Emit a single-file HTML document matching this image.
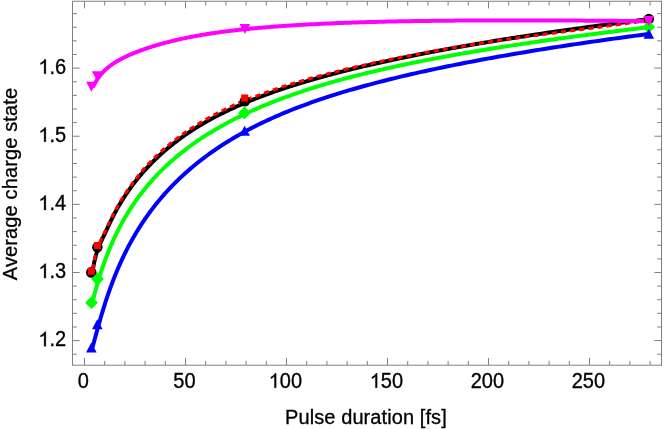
<!DOCTYPE html>
<html><head><meta charset="utf-8"><title>Average charge state vs pulse duration</title>
<style>html,body{margin:0;padding:0;background:#fff}body{width:664px;height:429px;overflow:hidden}</style></head>
<body>
<svg width="664" height="429" viewBox="0 0 664 429" style="display:block;will-change:transform">
<rect width="664" height="429" fill="#fff"/>
<path d="M92.50,272.37 L92.63,271.47 L92.76,270.58 L92.90,269.72 L93.03,268.87 L93.17,268.04 L93.31,267.22 L93.44,266.42 L93.58,265.64 L93.73,264.87 L93.87,264.12 L94.01,263.38 L94.16,262.66 L94.30,261.95 L94.45,261.26 L94.60,260.57 L94.75,259.90 L94.90,259.25 L95.06,258.60 L95.21,257.97 L95.37,257.35 L95.53,256.74 L95.69,256.14 L95.85,255.55 L96.01,254.97 L96.17,254.40 L96.34,253.83 L96.51,253.28 L96.67,252.74 L96.84,252.20 L97.02,251.67 L97.19,251.15 L97.36,250.63 L97.54,250.13 L97.72,249.62 L97.90,249.13 L98.08,248.64 L98.26,248.15 L98.45,247.67 L98.64,247.19 L98.82,246.72 L99.01,246.25 L99.21,245.78 L99.40,245.32 L99.60,244.86 L99.79,244.40 L99.99,243.94 L100.19,243.48 L100.40,243.02 L100.60,242.57 L100.81,242.11 L101.02,241.66 L101.23,241.20 L101.44,240.74 L101.65,240.29 L101.87,239.83 L102.09,239.36 L102.31,238.90 L102.53,238.43 L102.76,237.96 L102.98,237.48 L103.21,237.01 L103.44,236.52 L103.68,236.04 L103.91,235.54 L104.15,235.04 L104.39,234.54 L104.63,234.03 L104.88,233.51 L105.12,232.99 L105.37,232.46 L105.62,231.92 L105.88,231.38 L106.13,230.83 L106.39,230.28 L106.65,229.72 L106.92,229.16 L107.18,228.59 L107.45,228.02 L107.72,227.44 L107.99,226.86 L108.27,226.28 L108.55,225.69 L108.83,225.09 L109.11,224.49 L109.40,223.89 L109.69,223.29 L109.98,222.68 L110.27,222.07 L110.57,221.46 L110.87,220.84 L111.17,220.22 L111.48,219.60 L111.79,218.98 L112.10,218.35 L112.41,217.72 L112.73,217.10 L113.05,216.47 L113.37,215.83 L113.70,215.20 L114.02,214.57 L114.36,213.93 L114.69,213.30 L115.03,212.66 L115.37,212.03 L115.72,211.39 L116.06,210.75 L116.41,210.11 L116.77,209.47 L117.13,208.83 L117.49,208.19 L117.85,207.54 L118.22,206.90 L118.59,206.26 L118.96,205.61 L119.34,204.96 L119.72,204.32 L120.11,203.67 L120.50,203.02 L120.89,202.37 L121.29,201.72 L121.69,201.07 L122.09,200.42 L122.50,199.76 L122.91,199.11 L123.32,198.46 L123.74,197.80 L124.16,197.15 L124.59,196.49 L125.02,195.83 L125.46,195.17 L125.89,194.52 L126.34,193.86 L126.78,193.20 L127.24,192.53 L127.69,191.87 L128.15,191.21 L128.61,190.55 L129.08,189.88 L129.55,189.22 L130.03,188.55 L130.51,187.89 L131.00,187.22 L131.49,186.55 L131.98,185.88 L132.48,185.22 L132.99,184.55 L133.50,183.88 L134.01,183.20 L134.53,182.53 L135.05,181.86 L135.58,181.19 L136.11,180.51 L136.65,179.84 L137.19,179.16 L137.74,178.49 L138.29,177.81 L138.85,177.14 L139.42,176.46 L139.99,175.78 L140.56,175.10 L141.14,174.42 L141.72,173.74 L142.31,173.06 L142.91,172.38 L143.51,171.70 L144.12,171.02 L144.73,170.33 L145.35,169.65 L145.97,168.97 L146.60,168.28 L147.24,167.60 L147.88,166.91 L148.53,166.22 L149.18,165.54 L149.84,164.85 L150.51,164.16 L151.18,163.48 L151.86,162.79 L152.55,162.10 L153.24,161.41 L153.93,160.72 L154.64,160.03 L155.35,159.34 L156.07,158.65 L156.79,157.96 L157.52,157.27 L158.26,156.58 L159.01,155.89 L159.76,155.20 L160.52,154.51 L161.28,153.81 L162.05,153.12 L162.83,152.43 L163.62,151.74 L164.42,151.05 L165.22,150.35 L166.03,149.66 L166.84,148.97 L167.67,148.28 L168.50,147.59 L169.34,146.90 L170.19,146.20 L171.05,145.51 L171.91,144.82 L172.78,144.13 L173.66,143.44 L174.55,142.75 L175.45,142.06 L176.35,141.37 L177.27,140.68 L178.19,139.99 L179.12,139.30 L180.06,138.61 L181.00,137.92 L181.96,137.23 L182.93,136.54 L183.90,135.85 L184.89,135.17 L185.88,134.48 L186.88,133.79 L187.89,133.11 L188.91,132.42 L189.94,131.73 L190.99,131.05 L192.04,130.37 L193.09,129.68 L194.16,129.00 L195.24,128.32 L196.33,127.64 L197.43,126.95 L198.54,126.27 L199.66,125.59 L200.79,124.92 L201.94,124.24 L203.09,123.56 L204.25,122.88 L205.43,122.21 L206.61,121.53 L207.81,120.86 L209.01,120.18 L210.23,119.51 L211.46,118.84 L212.70,118.17 L213.95,117.50 L215.22,116.83 L216.49,116.16 L217.78,115.50 L219.08,114.83 L220.39,114.16 L221.72,113.50 L223.05,112.84 L224.40,112.18 L225.77,111.51 L227.14,110.86 L228.53,110.20 L229.93,109.54 L231.34,108.88 L232.77,108.23 L234.21,107.57 L235.66,106.92 L237.13,106.26 L238.61,105.61 L240.10,104.96 L241.61,104.31 L243.13,103.66 L244.67,103.01 L246.22,102.37 L247.78,101.72 L249.36,101.07 L250.96,100.43 L252.57,99.78 L254.19,99.14 L255.83,98.50 L257.49,97.86 L259.16,97.22 L260.84,96.57 L262.54,95.94 L264.26,95.30 L266.00,94.66 L267.74,94.02 L269.51,93.38 L271.29,92.75 L273.09,92.11 L274.91,91.48 L276.74,90.84 L278.59,90.21 L280.46,89.57 L282.34,88.94 L284.25,88.31 L286.17,87.68 L288.10,87.05 L290.06,86.42 L292.03,85.79 L294.03,85.16 L296.04,84.53 L298.07,83.90 L300.12,83.27 L302.18,82.64 L304.27,82.01 L306.38,81.39 L308.50,80.76 L310.65,80.13 L312.82,79.51 L315.00,78.88 L317.21,78.26 L319.44,77.63 L321.69,77.01 L323.96,76.38 L326.25,75.76 L328.56,75.14 L330.89,74.51 L333.25,73.89 L335.62,73.27 L338.02,72.64 L340.44,72.02 L342.89,71.40 L345.36,70.78 L347.85,70.15 L350.36,69.53 L352.90,68.91 L355.46,68.29 L358.04,67.67 L360.65,67.05 L363.28,66.42 L365.94,65.80 L368.62,65.18 L371.33,64.56 L374.06,63.94 L376.82,63.32 L379.60,62.70 L382.41,62.07 L385.25,61.45 L388.11,60.83 L391.00,60.21 L393.91,59.59 L396.86,58.97 L399.83,58.35 L402.83,57.72 L405.85,57.10 L408.91,56.48 L411.99,55.86 L415.10,55.23 L418.24,54.61 L421.41,53.99 L424.61,53.37 L427.84,52.74 L431.10,52.12 L434.39,51.50 L437.71,50.87 L441.06,50.25 L444.45,49.62 L447.86,49.00 L451.31,48.37 L454.79,47.75 L458.30,47.12 L461.84,46.49 L465.42,45.87 L469.03,45.24 L472.67,44.61 L476.35,43.98 L480.06,43.36 L483.81,42.73 L487.59,42.10 L491.41,41.47 L495.26,40.84 L499.15,40.21 L503.07,39.58 L507.03,38.94 L511.03,38.31 L515.07,37.68 L519.14,37.05 L523.25,36.41 L527.40,35.78 L531.59,35.14 L535.82,34.51 L540.08,33.87 L544.39,33.23 L548.74,32.59 L553.13,31.96 L557.55,31.32 L562.02,30.68 L566.54,30.04 L571.09,29.39 L575.68,28.75 L580.32,28.11 L585.01,27.47 L589.73,26.82 L594.50,26.18 L599.32,25.53 L604.17,24.88 L609.08,24.24 L614.03,23.59 L619.03,22.94 L624.07,22.29 L629.16,21.64 L634.30,20.98 L639.48,20.33 L644.72,19.68 L650.00,19.02" fill="none" stroke="#000000" stroke-width="4.0" stroke-linejoin="round"/>
<path d="M92.50,271.07 L92.63,270.15 L92.76,269.26 L92.90,268.38 L93.03,267.52 L93.17,266.67 L93.31,265.84 L93.44,265.03 L93.58,264.23 L93.73,263.45 L93.87,262.68 L94.01,261.93 L94.16,261.19 L94.30,260.46 L94.45,259.75 L94.60,259.05 L94.75,258.37 L94.90,257.69 L95.06,257.03 L95.21,256.38 L95.37,255.74 L95.53,255.12 L95.69,254.50 L95.85,253.90 L96.01,253.30 L96.17,252.71 L96.34,252.14 L96.51,251.57 L96.67,251.01 L96.84,250.47 L97.02,249.93 L97.19,249.39 L97.36,248.87 L97.54,248.35 L97.72,247.84 L97.90,247.34 L98.08,246.84 L98.26,246.35 L98.45,245.87 L98.64,245.39 L98.82,244.92 L99.01,244.45 L99.21,243.98 L99.40,243.52 L99.60,243.06 L99.79,242.60 L99.99,242.14 L100.19,241.68 L100.40,241.22 L100.60,240.77 L100.81,240.31 L101.02,239.86 L101.23,239.40 L101.44,238.94 L101.65,238.49 L101.87,238.03 L102.09,237.56 L102.31,237.10 L102.53,236.63 L102.76,236.16 L102.98,235.68 L103.21,235.21 L103.44,234.72 L103.68,234.24 L103.91,233.74 L104.15,233.24 L104.39,232.74 L104.63,232.23 L104.88,231.71 L105.12,231.19 L105.37,230.66 L105.62,230.12 L105.88,229.58 L106.13,229.03 L106.39,228.48 L106.65,227.92 L106.92,227.36 L107.18,226.79 L107.45,226.22 L107.72,225.64 L107.99,225.06 L108.27,224.48 L108.55,223.89 L108.83,223.29 L109.11,222.69 L109.40,222.09 L109.69,221.49 L109.98,220.88 L110.27,220.27 L110.57,219.66 L110.87,219.04 L111.17,218.42 L111.48,217.80 L111.79,217.18 L112.10,216.55 L112.41,215.92 L112.73,215.30 L113.05,214.67 L113.37,214.03 L113.70,213.40 L114.02,212.77 L114.36,212.13 L114.69,211.50 L115.03,210.86 L115.37,210.23 L115.72,209.59 L116.06,208.95 L116.41,208.31 L116.77,207.67 L117.13,207.03 L117.49,206.39 L117.85,205.74 L118.22,205.10 L118.59,204.46 L118.96,203.81 L119.34,203.16 L119.72,202.52 L120.11,201.87 L120.50,201.22 L120.89,200.57 L121.29,199.92 L121.69,199.27 L122.09,198.62 L122.50,197.96 L122.91,197.31 L123.32,196.66 L123.74,196.00 L124.16,195.35 L124.59,194.69 L125.02,194.03 L125.46,193.37 L125.89,192.72 L126.34,192.06 L126.78,191.40 L127.24,190.73 L127.69,190.07 L128.15,189.41 L128.61,188.75 L129.08,188.08 L129.55,187.42 L130.03,186.75 L130.51,186.09 L131.00,185.42 L131.49,184.75 L131.98,184.08 L132.48,183.40 L132.99,182.71 L133.50,182.03 L134.01,181.34 L134.53,180.64 L135.05,179.94 L135.58,179.24 L136.11,178.54 L136.65,177.83 L137.19,177.13 L137.74,176.42 L138.29,175.71 L138.85,174.99 L139.42,174.28 L139.99,173.57 L140.56,172.86 L141.14,172.15 L141.72,171.44 L142.31,170.73 L142.91,170.03 L143.51,169.33 L144.12,168.63 L144.73,167.94 L145.35,167.25 L145.97,166.56 L146.60,165.87 L147.24,165.18 L147.88,164.49 L148.53,163.81 L149.18,163.12 L149.84,162.43 L150.51,161.73 L151.18,161.04 L151.86,160.35 L152.55,159.66 L153.24,158.97 L153.93,158.28 L154.64,157.59 L155.35,156.89 L156.07,156.20 L156.79,155.51 L157.52,154.81 L158.26,154.12 L159.01,153.43 L159.76,152.74 L160.52,152.04 L161.28,151.35 L162.05,150.66 L162.83,149.96 L163.62,149.27 L164.42,148.57 L165.22,147.88 L166.03,147.19 L166.84,146.49 L167.67,145.80 L168.50,145.11 L169.34,144.41 L170.19,143.72 L171.05,143.03 L171.91,142.34 L172.78,141.64 L173.66,140.95 L174.55,140.26 L175.45,139.57 L176.35,138.87 L177.27,138.18 L178.19,137.49 L179.12,136.80 L180.06,136.11 L181.00,135.42 L181.96,134.73 L182.93,134.04 L183.90,133.35 L184.89,132.66 L185.88,131.97 L186.88,131.28 L187.89,130.59 L188.91,129.90 L189.94,129.21 L190.99,128.53 L192.04,127.84 L193.09,127.15 L194.16,126.47 L195.24,125.79 L196.33,125.10 L197.43,124.42 L198.54,123.73 L199.66,123.05 L200.79,122.37 L201.94,121.69 L203.09,121.01 L204.25,120.33 L205.43,119.65 L206.61,118.98 L207.81,118.30 L209.01,117.62 L210.23,116.95 L211.46,116.27 L212.70,115.60 L213.95,114.93 L215.22,114.26 L216.49,113.59 L217.78,112.92 L219.08,112.25 L220.39,111.58 L221.72,110.92 L223.05,110.25 L224.40,109.59 L225.77,108.93 L227.14,108.27 L228.53,107.61 L229.93,106.95 L231.34,106.29 L232.77,105.63 L234.21,104.98 L235.66,104.32 L237.13,103.67 L238.61,103.01 L240.10,102.36 L241.61,101.71 L243.13,101.06 L244.67,100.41 L246.22,99.78 L247.78,99.17 L249.36,98.58 L250.96,98.01 L252.57,97.44 L254.19,96.87 L255.83,96.28 L257.49,95.66 L259.16,95.04 L260.84,94.41 L262.54,93.79 L264.26,93.16 L266.00,92.54 L267.74,91.91 L269.51,91.28 L271.29,90.65 L273.09,90.03 L274.91,89.40 L276.74,88.77 L278.59,88.15 L280.46,87.52 L282.34,86.90 L284.25,86.27 L286.17,85.65 L288.10,85.03 L290.06,84.42 L292.03,83.80 L294.03,83.19 L296.04,82.57 L298.07,81.96 L300.12,81.35 L302.18,80.74 L304.27,80.14 L306.38,79.53 L308.50,78.92 L310.65,78.32 L312.82,77.71 L315.00,77.11 L317.21,76.51 L319.44,75.91 L321.69,75.31 L323.96,74.71 L326.25,74.11 L328.56,73.51 L330.89,72.91 L333.25,72.32 L335.62,71.72 L338.02,71.12 L340.44,70.53 L342.89,69.93 L345.36,69.34 L347.85,68.74 L350.36,68.15 L352.90,67.56 L355.46,66.97 L358.04,66.39 L360.65,65.80 L363.28,65.21 L365.94,64.62 L368.62,64.04 L371.33,63.45 L374.06,62.86 L376.82,62.27 L379.60,61.68 L382.41,61.10 L385.25,60.51 L388.11,59.91 L391.00,59.32 L393.91,58.73 L396.86,58.13 L399.83,57.53 L402.83,56.94 L405.85,56.34 L408.91,55.74 L411.99,55.14 L415.10,54.54 L418.24,53.94 L421.41,53.34 L424.61,52.74 L427.84,52.14 L431.10,51.54 L434.39,50.95 L437.71,50.35 L441.06,49.76 L444.45,49.16 L447.86,48.57 L451.31,47.97 L454.79,47.38 L458.30,46.78 L461.84,46.19 L465.42,45.59 L469.03,45.00 L472.67,44.41 L476.35,43.82 L480.06,43.23 L483.81,42.65 L487.59,42.07 L491.41,41.49 L495.26,40.92 L499.15,40.36 L503.07,39.81 L507.03,39.26 L511.03,38.72 L515.07,38.18 L519.14,37.64 L523.25,37.10 L527.40,36.55 L531.59,36.00 L535.82,35.44 L540.08,34.87 L544.39,34.29 L548.74,33.71 L553.13,33.14 L557.55,32.56 L562.02,31.98 L566.54,31.40 L571.09,30.81 L575.68,30.22 L580.32,29.62 L585.01,29.01 L589.73,28.39 L594.50,27.77 L599.32,27.13 L604.17,26.48 L609.08,25.82 L614.03,25.15 L619.03,24.48 L624.07,23.79 L629.16,23.09 L634.30,22.39 L639.48,21.67 L644.72,20.94 L650.00,20.22" fill="none" stroke="#ff0000" stroke-width="3.05" stroke-linejoin="round" stroke-dasharray="5.2 4.0" stroke-dashoffset="-1.8"/>
<path d="M92.50,302.21 L92.63,301.67 L92.76,301.13 L92.90,300.59 L93.03,300.04 L93.17,299.49 L93.31,298.94 L93.44,298.39 L93.58,297.83 L93.73,297.28 L93.87,296.72 L94.01,296.15 L94.16,295.59 L94.30,295.02 L94.45,294.46 L94.60,293.88 L94.75,293.31 L94.90,292.74 L95.06,292.16 L95.21,291.58 L95.37,291.00 L95.53,290.41 L95.69,289.83 L95.85,289.24 L96.01,288.65 L96.17,288.06 L96.34,287.46 L96.51,286.87 L96.67,286.27 L96.84,285.67 L97.02,285.07 L97.19,284.46 L97.36,283.86 L97.54,283.25 L97.72,282.64 L97.90,282.03 L98.08,281.41 L98.26,280.80 L98.45,280.18 L98.64,279.56 L98.82,278.94 L99.01,278.31 L99.21,277.69 L99.40,277.06 L99.60,276.43 L99.79,275.80 L99.99,275.17 L100.19,274.53 L100.40,273.90 L100.60,273.26 L100.81,272.62 L101.02,271.98 L101.23,271.33 L101.44,270.69 L101.65,270.04 L101.87,269.39 L102.09,268.74 L102.31,268.09 L102.53,267.44 L102.76,266.78 L102.98,266.13 L103.21,265.47 L103.44,264.81 L103.68,264.15 L103.91,263.48 L104.15,262.82 L104.39,262.15 L104.63,261.48 L104.88,260.81 L105.12,260.14 L105.37,259.47 L105.62,258.80 L105.88,258.12 L106.13,257.44 L106.39,256.76 L106.65,256.08 L106.91,255.40 L107.18,254.72 L107.45,254.04 L107.72,253.35 L107.99,252.66 L108.27,251.98 L108.55,251.29 L108.83,250.59 L109.11,249.90 L109.40,249.21 L109.69,248.51 L109.98,247.82 L110.27,247.12 L110.57,246.42 L110.87,245.72 L111.17,245.02 L111.48,244.32 L111.78,243.61 L112.09,242.91 L112.41,242.20 L112.73,241.49 L113.05,240.78 L113.37,240.07 L113.69,239.36 L114.02,238.65 L114.36,237.94 L114.69,237.22 L115.03,236.51 L115.37,235.79 L115.71,235.07 L116.06,234.35 L116.41,233.63 L116.77,232.91 L117.12,232.19 L117.49,231.47 L117.85,230.74 L118.22,230.02 L118.59,229.29 L118.96,228.57 L119.34,227.84 L119.72,227.11 L120.11,226.38 L120.50,225.65 L120.89,224.92 L121.28,224.18 L121.68,223.45 L122.09,222.72 L122.49,221.98 L122.91,221.24 L123.32,220.51 L123.74,219.77 L124.16,219.03 L124.59,218.29 L125.02,217.55 L125.45,216.81 L125.89,216.07 L126.33,215.33 L126.78,214.58 L127.23,213.84 L127.69,213.10 L128.15,212.35 L128.61,211.61 L129.08,210.86 L129.55,210.11 L130.03,209.36 L130.51,208.61 L130.99,207.87 L131.49,207.12 L131.98,206.37 L132.48,205.61 L132.98,204.86 L133.49,204.11 L134.01,203.36 L134.52,202.61 L135.05,201.85 L135.58,201.10 L136.11,200.34 L136.65,199.59 L137.19,198.83 L137.74,198.08 L138.29,197.32 L138.85,196.56 L139.41,195.80 L139.98,195.05 L140.56,194.29 L141.13,193.53 L141.72,192.77 L142.31,192.01 L142.91,191.25 L143.51,190.49 L144.11,189.73 L144.73,188.97 L145.35,188.21 L145.97,187.45 L146.60,186.69 L147.24,185.93 L147.88,185.16 L148.52,184.40 L149.18,183.64 L149.84,182.88 L150.50,182.11 L151.18,181.35 L151.86,180.59 L152.54,179.82 L153.23,179.06 L153.93,178.29 L154.63,177.53 L155.34,176.77 L156.06,176.00 L156.79,175.24 L157.52,174.47 L158.25,173.71 L159.00,172.94 L159.75,172.18 L160.51,171.42 L161.27,170.65 L162.05,169.89 L162.83,169.12 L163.61,168.36 L164.41,167.59 L165.21,166.83 L166.02,166.06 L166.84,165.30 L167.66,164.54 L168.49,163.77 L169.33,163.01 L170.18,162.24 L171.04,161.48 L171.90,160.72 L172.77,159.95 L173.65,159.19 L174.54,158.43 L175.44,157.66 L176.34,156.90 L177.26,156.14 L178.18,155.38 L179.11,154.61 L180.05,153.85 L181.00,153.09 L181.95,152.33 L182.92,151.57 L183.89,150.81 L184.88,150.05 L185.87,149.29 L186.87,148.53 L187.88,147.77 L188.90,147.01 L189.93,146.25 L190.97,145.49 L192.02,144.73 L193.08,143.98 L194.15,143.22 L195.23,142.46 L196.32,141.71 L197.42,140.95 L198.53,140.20 L199.65,139.44 L200.78,138.69 L201.92,137.93 L203.08,137.18 L204.24,136.43 L205.41,135.68 L206.60,134.93 L207.79,134.17 L209.00,133.42 L210.22,132.68 L211.45,131.93 L212.69,131.18 L213.94,130.43 L215.20,129.68 L216.48,128.94 L217.77,128.19 L219.07,127.45 L220.38,126.70 L221.70,125.96 L223.04,125.21 L224.39,124.47 L225.75,123.73 L227.12,122.99 L228.51,122.25 L229.91,121.51 L231.32,120.77 L232.75,120.04 L234.19,119.30 L235.64,118.56 L237.11,117.83 L238.59,117.10 L240.08,116.36 L241.59,115.63 L243.11,114.90 L244.65,114.17 L246.20,113.44 L247.76,112.71 L249.34,111.99 L250.94,111.26 L252.55,110.53 L254.17,109.81 L255.81,109.09 L257.46,108.37 L259.13,107.64 L260.82,106.92 L262.52,106.21 L264.24,105.49 L265.97,104.77 L267.72,104.06 L269.49,103.34 L271.27,102.63 L273.07,101.92 L274.88,101.21 L276.72,100.50 L278.57,99.79 L280.43,99.08 L282.32,98.38 L284.22,97.67 L286.14,96.97 L288.08,96.27 L290.03,95.57 L292.01,94.87 L294.00,94.17 L296.01,93.48 L298.04,92.78 L300.09,92.09 L302.15,91.39 L304.24,90.70 L306.35,90.01 L308.47,89.33 L310.62,88.64 L312.79,87.95 L314.97,87.27 L317.18,86.59 L319.41,85.91 L321.65,85.23 L323.92,84.55 L326.21,83.88 L328.52,83.20 L330.86,82.53 L333.21,81.86 L335.59,81.19 L337.99,80.52 L340.41,79.85 L342.85,79.19 L345.32,78.53 L347.81,77.87 L350.32,77.21 L352.86,76.55 L355.42,75.89 L358.00,75.24 L360.61,74.58 L363.24,73.93 L365.90,73.28 L368.58,72.63 L371.29,71.98 L374.02,71.33 L376.78,70.69 L379.56,70.04 L382.37,69.40 L385.20,68.76 L388.06,68.12 L390.95,67.48 L393.87,66.84 L396.81,66.20 L399.78,65.57 L402.78,64.93 L405.80,64.30 L408.86,63.66 L411.94,63.03 L415.05,62.40 L418.19,61.77 L421.36,61.14 L424.56,60.51 L427.79,59.89 L431.05,59.26 L434.34,58.63 L437.66,58.01 L441.01,57.38 L444.39,56.76 L447.80,56.14 L451.25,55.51 L454.73,54.89 L458.24,54.27 L461.78,53.65 L465.36,53.03 L468.97,52.41 L472.61,51.79 L476.29,51.17 L480.00,50.55 L483.74,49.94 L487.52,49.32 L491.34,48.70 L495.19,48.08 L499.08,47.47 L503.00,46.85 L506.96,46.24 L510.96,45.62 L515.00,45.00 L519.07,44.39 L523.18,43.77 L527.33,43.16 L531.52,42.54 L535.74,41.93 L540.01,41.31 L544.31,40.70 L548.66,40.08 L553.05,39.47 L557.47,38.85 L561.94,38.24 L566.45,37.62 L571.01,37.01 L575.60,36.39 L580.24,35.78 L584.92,35.16 L589.64,34.55 L594.41,33.93 L599.23,33.31 L604.09,32.69 L608.99,32.08 L613.94,31.46 L618.93,30.84 L623.98,30.22 L629.06,29.60 L634.20,28.98 L639.39,28.36 L644.62,27.74 L649.90,27.12 L650.00,27.12" fill="none" stroke="#00ff00" stroke-width="4.0" stroke-linejoin="round"/>
<path d="M92.50,347.59 L92.63,347.10 L92.76,346.61 L92.90,346.11 L93.03,345.61 L93.17,345.10 L93.31,344.59 L93.44,344.07 L93.58,343.55 L93.73,343.02 L93.87,342.49 L94.01,341.95 L94.16,341.40 L94.30,340.85 L94.45,340.30 L94.60,339.74 L94.75,339.18 L94.90,338.61 L95.06,338.04 L95.21,337.46 L95.37,336.87 L95.53,336.29 L95.69,335.69 L95.85,335.10 L96.01,334.49 L96.17,333.89 L96.34,333.28 L96.51,332.66 L96.67,332.04 L96.84,331.42 L97.02,330.79 L97.19,330.16 L97.36,329.52 L97.54,328.88 L97.72,328.23 L97.90,327.58 L98.08,326.93 L98.26,326.27 L98.45,325.61 L98.64,324.94 L98.82,324.27 L99.01,323.59 L99.21,322.92 L99.40,322.23 L99.60,321.55 L99.79,320.86 L99.99,320.16 L100.19,319.47 L100.40,318.77 L100.60,318.06 L100.81,317.35 L101.02,316.64 L101.23,315.93 L101.44,315.21 L101.65,314.48 L101.87,313.76 L102.09,313.03 L102.31,312.30 L102.53,311.56 L102.76,310.82 L102.98,310.08 L103.21,309.33 L103.44,308.58 L103.68,307.83 L103.91,307.08 L104.15,306.32 L104.39,305.56 L104.63,304.79 L104.88,304.03 L105.12,303.26 L105.37,302.48 L105.62,301.71 L105.88,300.93 L106.13,300.15 L106.39,299.37 L106.65,298.58 L106.92,297.79 L107.18,297.00 L107.45,296.20 L107.72,295.41 L107.99,294.61 L108.27,293.81 L108.55,293.00 L108.83,292.20 L109.11,291.39 L109.40,290.58 L109.69,289.76 L109.98,288.95 L110.27,288.13 L110.57,287.31 L110.87,286.49 L111.17,285.66 L111.48,284.84 L111.79,284.01 L112.10,283.18 L112.41,282.35 L112.73,281.51 L113.05,280.68 L113.37,279.84 L113.70,279.00 L114.02,278.16 L114.36,277.32 L114.69,276.47 L115.03,275.63 L115.37,274.78 L115.72,273.93 L116.06,273.08 L116.41,272.23 L116.77,271.38 L117.13,270.52 L117.49,269.67 L117.85,268.81 L118.22,267.95 L118.59,267.09 L118.96,266.23 L119.34,265.37 L119.72,264.51 L120.11,263.64 L120.50,262.78 L120.89,261.91 L121.29,261.04 L121.69,260.17 L122.09,259.31 L122.50,258.43 L122.91,257.56 L123.32,256.69 L123.74,255.82 L124.16,254.94 L124.59,254.07 L125.02,253.19 L125.46,252.32 L125.89,251.44 L126.34,250.56 L126.78,249.68 L127.24,248.80 L127.69,247.92 L128.15,247.04 L128.61,246.15 L129.08,245.27 L129.55,244.39 L130.03,243.50 L130.51,242.62 L131.00,241.73 L131.49,240.84 L131.98,239.96 L132.48,239.07 L132.99,238.18 L133.50,237.29 L134.01,236.40 L134.53,235.51 L135.05,234.62 L135.58,233.73 L136.11,232.83 L136.65,231.94 L137.19,231.05 L137.74,230.15 L138.29,229.26 L138.85,228.37 L139.42,227.47 L139.99,226.57 L140.56,225.68 L141.14,224.78 L141.72,223.89 L142.31,222.99 L142.91,222.09 L143.51,221.19 L144.12,220.30 L144.73,219.40 L145.35,218.50 L145.97,217.60 L146.60,216.70 L147.24,215.80 L147.88,214.90 L148.53,214.00 L149.18,213.10 L149.84,212.20 L150.51,211.30 L151.18,210.40 L151.86,209.50 L152.55,208.60 L153.24,207.70 L153.93,206.80 L154.64,205.90 L155.35,205.00 L156.07,204.10 L156.79,203.20 L157.52,202.30 L158.26,201.39 L159.01,200.49 L159.76,199.59 L160.52,198.69 L161.28,197.79 L162.05,196.89 L162.83,195.99 L163.62,195.09 L164.42,194.19 L165.22,193.29 L166.03,192.39 L166.84,191.49 L167.67,190.59 L168.50,189.69 L169.34,188.80 L170.19,187.90 L171.05,187.00 L171.91,186.10 L172.78,185.20 L173.66,184.31 L174.55,183.41 L175.45,182.51 L176.35,181.62 L177.27,180.72 L178.19,179.83 L179.12,178.93 L180.06,178.04 L181.00,177.14 L181.96,176.25 L182.93,175.36 L183.90,174.46 L184.89,173.57 L185.88,172.68 L186.88,171.79 L187.89,170.90 L188.91,170.01 L189.94,169.12 L190.99,168.23 L192.04,167.34 L193.09,166.46 L194.16,165.57 L195.24,164.69 L196.33,163.80 L197.43,162.92 L198.54,162.03 L199.66,161.15 L200.79,160.27 L201.94,159.39 L203.09,158.50 L204.25,157.63 L205.43,156.75 L206.61,155.87 L207.81,154.99 L209.01,154.11 L210.23,153.24 L211.46,152.36 L212.70,151.49 L213.95,150.62 L215.22,149.75 L216.49,148.88 L217.78,148.01 L219.08,147.14 L220.39,146.27 L221.72,145.40 L223.05,144.54 L224.40,143.68 L225.77,142.81 L227.14,141.95 L228.53,141.09 L229.93,140.24 L231.34,139.38 L232.77,138.52 L234.21,137.67 L235.66,136.82 L237.13,135.97 L238.61,135.12 L240.10,134.27 L241.61,133.42 L243.13,132.58 L244.67,131.74 L246.22,130.89 L247.78,130.05 L249.36,129.22 L250.96,128.38 L252.57,127.55 L254.19,126.72 L255.83,125.89 L257.49,125.06 L259.16,124.23 L260.84,123.41 L262.54,122.59 L264.26,121.77 L266.00,120.95 L267.74,120.14 L269.51,119.32 L271.29,118.51 L273.09,117.70 L274.91,116.90 L276.74,116.09 L278.59,115.29 L280.46,114.49 L282.34,113.69 L284.25,112.90 L286.17,112.10 L288.10,111.31 L290.06,110.52 L292.03,109.74 L294.03,108.95 L296.04,108.17 L298.07,107.39 L300.12,106.61 L302.18,105.83 L304.27,105.06 L306.38,104.28 L308.50,103.51 L310.65,102.74 L312.82,101.98 L315.00,101.21 L317.21,100.45 L319.44,99.69 L321.69,98.93 L323.96,98.17 L326.25,97.41 L328.56,96.66 L330.89,95.91 L333.25,95.16 L335.62,94.41 L338.02,93.66 L340.44,92.91 L342.89,92.17 L345.36,91.43 L347.85,90.69 L350.36,89.95 L352.90,89.21 L355.46,88.48 L358.04,87.74 L360.65,87.01 L363.28,86.28 L365.94,85.55 L368.62,84.82 L371.33,84.09 L374.06,83.37 L376.82,82.65 L379.60,81.92 L382.41,81.20 L385.25,80.48 L388.11,79.76 L391.00,79.04 L393.91,78.33 L396.86,77.61 L399.83,76.90 L402.83,76.18 L405.85,75.47 L408.91,74.76 L411.99,74.05 L415.10,73.34 L418.24,72.63 L421.41,71.92 L424.61,71.22 L427.84,70.51 L431.10,69.81 L434.39,69.10 L437.71,68.40 L441.06,67.70 L444.45,67.00 L447.86,66.29 L451.31,65.59 L454.79,64.90 L458.30,64.20 L461.84,63.50 L465.42,62.80 L469.03,62.10 L472.67,61.41 L476.35,60.71 L480.06,60.02 L483.81,59.32 L487.59,58.63 L491.41,57.94 L495.26,57.24 L499.15,56.55 L503.07,55.86 L507.03,55.17 L511.03,54.48 L515.07,53.79 L519.14,53.10 L523.25,52.41 L527.40,51.72 L531.59,51.03 L535.82,50.34 L540.08,49.65 L544.39,48.96 L548.74,48.27 L553.13,47.58 L557.55,46.89 L562.02,46.21 L566.54,45.52 L571.09,44.83 L575.68,44.14 L580.32,43.45 L585.01,42.77 L589.73,42.08 L594.50,41.39 L599.32,40.70 L604.17,40.01 L609.08,39.33 L614.03,38.64 L619.03,37.95 L624.07,37.26 L629.16,36.57 L634.30,35.88 L639.48,35.19 L644.72,34.50 L650.00,33.81" fill="none" stroke="#0000ff" stroke-width="4.0" stroke-linejoin="round"/>
<path d="M93.00,87.22 L93.13,86.92 L93.27,86.62 L93.41,86.32 L93.55,86.03 L93.69,85.74 L93.83,85.45 L93.97,85.16 L94.11,84.87 L94.26,84.58 L94.40,84.29 L94.55,84.01 L94.70,83.72 L94.85,83.44 L95.00,83.16 L95.15,82.88 L95.31,82.60 L95.46,82.32 L95.62,82.05 L95.78,81.77 L95.94,81.50 L96.10,81.23 L96.27,80.96 L96.43,80.68 L96.60,80.42 L96.76,80.15 L96.93,79.88 L97.10,79.62 L97.28,79.35 L97.45,79.09 L97.63,78.82 L97.80,78.56 L97.98,78.30 L98.16,78.04 L98.35,77.79 L98.53,77.53 L98.72,77.27 L98.90,77.02 L99.09,76.76 L99.28,76.51 L99.48,76.26 L99.67,76.01 L99.87,75.76 L100.06,75.51 L100.26,75.26 L100.47,75.01 L100.67,74.76 L100.87,74.52 L101.08,74.27 L101.29,74.03 L101.50,73.79 L101.72,73.55 L101.93,73.30 L102.15,73.06 L102.37,72.82 L102.59,72.59 L102.81,72.35 L103.04,72.11 L103.26,71.87 L103.49,71.64 L103.72,71.40 L103.96,71.17 L104.19,70.94 L104.43,70.70 L104.67,70.47 L104.91,70.24 L105.16,70.01 L105.41,69.78 L105.65,69.55 L105.91,69.33 L106.16,69.10 L106.42,68.87 L106.67,68.64 L106.94,68.42 L107.20,68.19 L107.46,67.97 L107.73,67.75 L108.00,67.52 L108.28,67.30 L108.55,67.08 L108.83,66.86 L109.11,66.64 L109.39,66.42 L109.68,66.20 L109.97,65.98 L110.26,65.76 L110.56,65.54 L110.85,65.32 L111.15,65.11 L111.45,64.89 L111.76,64.67 L112.07,64.46 L112.38,64.24 L112.69,64.03 L113.01,63.81 L113.33,63.60 L113.65,63.38 L113.97,63.17 L114.30,62.96 L114.63,62.74 L114.97,62.53 L115.31,62.32 L115.65,62.11 L115.99,61.90 L116.34,61.69 L116.69,61.47 L117.04,61.26 L117.40,61.05 L117.76,60.84 L118.12,60.63 L118.49,60.43 L118.86,60.22 L119.23,60.01 L119.61,59.80 L119.99,59.59 L120.37,59.38 L120.76,59.17 L121.15,58.97 L121.55,58.76 L121.94,58.55 L122.35,58.34 L122.75,58.14 L123.16,57.93 L123.58,57.72 L123.99,57.51 L124.41,57.31 L124.84,57.10 L125.27,56.89 L125.70,56.69 L126.14,56.48 L126.58,56.27 L127.02,56.07 L127.47,55.86 L127.92,55.65 L128.38,55.45 L128.84,55.24 L129.31,55.03 L129.78,54.83 L130.25,54.62 L130.73,54.41 L131.21,54.21 L131.70,54.00 L132.19,53.79 L132.69,53.59 L133.19,53.38 L133.70,53.17 L134.21,52.96 L134.72,52.76 L135.24,52.55 L135.77,52.34 L136.30,52.13 L136.83,51.92 L137.37,51.72 L137.92,51.51 L138.47,51.30 L139.02,51.09 L139.58,50.88 L140.15,50.67 L140.72,50.46 L141.29,50.25 L141.87,50.04 L142.46,49.83 L143.05,49.62 L143.65,49.41 L144.25,49.19 L144.86,48.98 L145.47,48.77 L146.09,48.56 L146.72,48.35 L147.35,48.13 L147.99,47.92 L148.63,47.71 L149.28,47.49 L149.93,47.28 L150.59,47.07 L151.26,46.85 L151.93,46.64 L152.61,46.43 L153.30,46.21 L153.99,46.00 L154.69,45.78 L155.39,45.57 L156.10,45.36 L156.82,45.14 L157.54,44.93 L158.27,44.72 L159.01,44.50 L159.76,44.29 L160.51,44.07 L161.27,43.86 L162.03,43.65 L162.80,43.44 L163.58,43.22 L164.37,43.01 L165.16,42.80 L165.97,42.58 L166.77,42.37 L167.59,42.16 L168.41,41.95 L169.25,41.74 L170.09,41.53 L170.93,41.32 L171.79,41.11 L172.65,40.90 L173.52,40.69 L174.40,40.48 L175.29,40.27 L176.18,40.06 L177.08,39.85 L177.99,39.65 L178.91,39.44 L179.84,39.23 L180.78,39.03 L181.73,38.82 L182.68,38.62 L183.64,38.41 L184.62,38.21 L185.60,38.00 L186.59,37.80 L187.59,37.60 L188.59,37.40 L189.61,37.20 L190.64,37.00 L191.68,36.80 L192.72,36.60 L193.78,36.40 L194.85,36.20 L195.92,36.00 L197.01,35.81 L198.10,35.61 L199.21,35.42 L200.32,35.23 L201.45,35.03 L202.59,34.84 L203.73,34.65 L204.89,34.46 L206.06,34.27 L207.24,34.08 L208.43,33.89 L209.63,33.71 L210.84,33.52 L212.07,33.34 L213.30,33.15 L214.55,32.97 L215.81,32.79 L217.07,32.61 L218.36,32.43 L219.65,32.25 L220.95,32.07 L222.27,31.89 L223.60,31.72 L224.94,31.54 L226.29,31.37 L227.66,31.20 L229.04,31.03 L230.43,30.86 L231.84,30.69 L233.25,30.52 L234.68,30.35 L236.13,30.19 L237.59,30.02 L239.06,29.86 L240.54,29.70 L242.04,29.54 L243.55,29.38 L245.08,29.22 L246.62,29.06 L248.17,28.91 L249.74,28.75 L251.32,28.60 L252.92,28.45 L254.53,28.29 L256.16,28.14 L257.80,28.00 L259.46,27.85 L261.13,27.70 L262.82,27.56 L264.52,27.41 L266.24,27.27 L267.98,27.13 L269.73,26.99 L271.50,26.85 L273.28,26.71 L275.08,26.58 L276.90,26.44 L278.73,26.31 L280.58,26.18 L282.45,26.04 L284.34,25.92 L286.24,25.79 L288.16,25.66 L290.10,25.53 L292.05,25.41 L294.03,25.29 L296.02,25.17 L298.03,25.05 L300.06,24.93 L302.11,24.81 L304.17,24.69 L306.26,24.58 L308.36,24.47 L310.49,24.35 L312.63,24.24 L314.80,24.13 L316.98,24.03 L319.18,23.92 L321.41,23.82 L323.65,23.71 L325.92,23.61 L328.21,23.51 L330.52,23.41 L332.84,23.31 L335.20,23.22 L337.57,23.12 L339.96,23.03 L342.38,22.94 L344.82,22.85 L347.28,22.76 L349.76,22.67 L352.27,22.59 L354.80,22.50 L357.36,22.42 L359.93,22.34 L362.53,22.26 L365.16,22.18 L367.81,22.11 L370.48,22.03 L373.18,21.96 L375.90,21.89 L378.65,21.82 L381.43,21.75 L384.23,21.68 L387.05,21.62 L389.90,21.55 L392.78,21.49 L395.69,21.43 L398.62,21.37 L401.58,21.31 L404.56,21.26 L407.58,21.21 L410.62,21.15 L413.69,21.10 L416.79,21.05 L419.91,21.01 L423.07,20.96 L426.25,20.92 L429.47,20.88 L432.71,20.83 L435.98,20.80 L439.29,20.76 L442.62,20.72 L445.99,20.69 L449.38,20.66 L452.81,20.63 L456.27,20.60 L459.76,20.57 L463.29,20.55 L466.84,20.52 L470.43,20.50 L474.05,20.48 L477.71,20.47 L481.40,20.45 L485.12,20.44 L488.88,20.42 L492.67,20.41 L496.50,20.40 L500.37,20.40 L504.26,20.39 L508.20,20.39 L512.17,20.39 L516.18,20.39 L520.22,20.39 L524.31,20.39 L528.43,20.40 L532.58,20.41 L536.78,20.41 L541.02,20.43 L545.29,20.44 L549.60,20.45 L553.96,20.47 L558.35,20.49 L562.79,20.51 L567.26,20.53 L571.78,20.56 L576.34,20.59 L580.94,20.61 L585.58,20.64 L590.27,20.68 L595.00,20.71 L599.77,20.75 L604.59,20.79 L609.45,20.83 L614.36,20.87 L619.31,20.91 L624.31,20.96 L629.35,21.01 L634.44,21.06 L639.58,21.11 L644.77,21.16 L650.00,21.22" fill="none" stroke="#ff00ff" stroke-width="4.0" stroke-linejoin="round"/>
<circle cx="91.3" cy="272.4" r="5.3" fill="#000"/>
<circle cx="97.35" cy="247.3" r="5.3" fill="#000"/>
<circle cx="244.85" cy="101.3" r="5.3" fill="#000"/>
<circle cx="648.8" cy="19.0" r="5.3" fill="#000"/>
<rect x="87.75" y="267.65" width="7.1" height="7.1" fill="#f00"/>
<rect x="93.95" y="241.95" width="7.1" height="7.1" fill="#f00"/>
<rect x="241.15" y="94.45" width="7.1" height="7.1" fill="#f00"/>
<rect x="645.15" y="15.95" width="7.1" height="7.1" fill="#f00"/>
<path d="M85.10,302.70 L91.50,296.30 L97.90,302.70 L91.50,309.10Z" fill="#0f0"/>
<path d="M91.10,279.00 L97.50,272.60 L103.90,279.00 L97.50,285.40Z" fill="#0f0"/>
<path d="M238.10,112.90 L244.50,106.50 L250.90,112.90 L244.50,119.30Z" fill="#0f0"/>
<path d="M642.30,27.10 L648.70,20.70 L655.10,27.10 L648.70,33.50Z" fill="#0f0"/>
<path d="M86.05,352.40 L96.65,352.40 L91.35,342.40Z" fill="#00f"/>
<path d="M92.00,329.30 L102.60,329.30 L97.30,319.30Z" fill="#00f"/>
<path d="M239.30,135.70 L249.90,135.70 L244.60,125.70Z" fill="#00f"/>
<path d="M643.50,38.80 L654.10,38.80 L648.80,28.80Z" fill="#00f"/>
<path d="M86.10,81.80 L96.70,81.80 L91.40,91.80Z" fill="#f0f"/>
<path d="M91.90,71.30 L102.50,71.30 L97.20,81.30Z" fill="#f0f"/>
<path d="M239.60,24.10 L250.20,24.10 L244.90,34.10Z" fill="#f0f"/>
<path d="M643.40,16.05 L654.00,16.05 L648.70,26.05Z" fill="#f0f"/>
<g stroke="#808080" stroke-width="1" fill="none">
<rect x="72.5" y="1.25" width="589.0" height="363.95"/>
<path d="M84.50,365.2 V358.00 M84.50,1.25 V8.45 M104.70,365.2 V360.90 M104.70,1.25 V5.55 M124.90,365.2 V360.90 M124.90,1.25 V5.55 M145.10,365.2 V360.90 M145.10,1.25 V5.55 M165.30,365.2 V360.90 M165.30,1.25 V5.55 M185.50,365.2 V358.00 M185.50,1.25 V8.45 M205.70,365.2 V360.90 M205.70,1.25 V5.55 M225.90,365.2 V360.90 M225.90,1.25 V5.55 M246.10,365.2 V360.90 M246.10,1.25 V5.55 M266.30,365.2 V360.90 M266.30,1.25 V5.55 M286.50,365.2 V358.00 M286.50,1.25 V8.45 M306.70,365.2 V360.90 M306.70,1.25 V5.55 M326.90,365.2 V360.90 M326.90,1.25 V5.55 M347.10,365.2 V360.90 M347.10,1.25 V5.55 M367.30,365.2 V360.90 M367.30,1.25 V5.55 M387.50,365.2 V358.00 M387.50,1.25 V8.45 M407.70,365.2 V360.90 M407.70,1.25 V5.55 M427.90,365.2 V360.90 M427.90,1.25 V5.55 M448.10,365.2 V360.90 M448.10,1.25 V5.55 M468.30,365.2 V360.90 M468.30,1.25 V5.55 M488.50,365.2 V358.00 M488.50,1.25 V8.45 M508.70,365.2 V360.90 M508.70,1.25 V5.55 M528.90,365.2 V360.90 M528.90,1.25 V5.55 M549.10,365.2 V360.90 M549.10,1.25 V5.55 M569.30,365.2 V360.90 M569.30,1.25 V5.55 M589.50,365.2 V358.00 M589.50,1.25 V8.45 M609.70,365.2 V360.90 M609.70,1.25 V5.55 M629.90,365.2 V360.90 M629.90,1.25 V5.55 M650.10,365.2 V360.90 M650.10,1.25 V5.55 M72.5,354.23 H76.80 M661.5,354.23 H657.20 M72.5,340.60 H79.70 M661.5,340.60 H654.30 M72.5,326.98 H76.80 M661.5,326.98 H657.20 M72.5,313.35 H76.80 M661.5,313.35 H657.20 M72.5,299.73 H76.80 M661.5,299.73 H657.20 M72.5,286.10 H76.80 M661.5,286.10 H657.20 M72.5,272.48 H79.70 M661.5,272.48 H654.30 M72.5,258.85 H76.80 M661.5,258.85 H657.20 M72.5,245.22 H76.80 M661.5,245.22 H657.20 M72.5,231.60 H76.80 M661.5,231.60 H657.20 M72.5,217.98 H76.80 M661.5,217.98 H657.20 M72.5,204.35 H79.70 M661.5,204.35 H654.30 M72.5,190.73 H76.80 M661.5,190.73 H657.20 M72.5,177.10 H76.80 M661.5,177.10 H657.20 M72.5,163.48 H76.80 M661.5,163.48 H657.20 M72.5,149.85 H76.80 M661.5,149.85 H657.20 M72.5,136.23 H79.70 M661.5,136.23 H654.30 M72.5,122.60 H76.80 M661.5,122.60 H657.20 M72.5,108.98 H76.80 M661.5,108.98 H657.20 M72.5,95.35 H76.80 M661.5,95.35 H657.20 M72.5,81.73 H76.80 M661.5,81.73 H657.20 M72.5,68.10 H79.70 M661.5,68.10 H654.30 M72.5,54.47 H76.80 M661.5,54.47 H657.20 M72.5,40.85 H76.80 M661.5,40.85 H657.20 M72.5,27.23 H76.80 M661.5,27.23 H657.20 M72.5,13.60 H76.80 M661.5,13.60 H657.20"/>
</g>
<g font-family="Liberation Sans, sans-serif" font-size="20.0" fill="#000" stroke="#000" stroke-width="0.3">
<g transform="translate(77.84,387.80) scale(1,1.06)"><text x="0" y="0">0</text></g>
<g transform="translate(173.28,387.80) scale(1,1.06)"><text x="0" y="0">50</text></g>
<g transform="translate(268.72,387.80) scale(1,1.06)"><path d="M763 0H583V1147Q518 1085 412.5 1023T223 930V1104Q374 1175 487 1276T647 1472H763Z" transform="scale(0.009766,-0.009259)" stroke-width="30.7"/><text x="11.12" y="0">00</text></g>
<g transform="translate(369.72,387.80) scale(1,1.06)"><path d="M763 0H583V1147Q518 1085 412.5 1023T223 930V1104Q374 1175 487 1276T647 1472H763Z" transform="scale(0.009766,-0.009259)" stroke-width="30.7"/><text x="11.12" y="0">50</text></g>
<g transform="translate(470.72,387.80) scale(1,1.06)"><text x="0" y="0">200</text></g>
<g transform="translate(571.72,387.80) scale(1,1.06)"><text x="0" y="0">250</text></g>
<g transform="translate(38.40,346.20) scale(1,1.06)"><path d="M763 0H583V1147Q518 1085 412.5 1023T223 930V1104Q374 1175 487 1276T647 1472H763Z" transform="scale(0.009766,-0.009259)" stroke-width="30.7"/><text x="11.12" y="0">.2</text></g>
<g transform="translate(38.40,278.08) scale(1,1.06)"><path d="M763 0H583V1147Q518 1085 412.5 1023T223 930V1104Q374 1175 487 1276T647 1472H763Z" transform="scale(0.009766,-0.009259)" stroke-width="30.7"/><text x="11.12" y="0">.3</text></g>
<g transform="translate(38.40,209.95) scale(1,1.06)"><path d="M763 0H583V1147Q518 1085 412.5 1023T223 930V1104Q374 1175 487 1276T647 1472H763Z" transform="scale(0.009766,-0.009259)" stroke-width="30.7"/><text x="11.12" y="0">.4</text></g>
<g transform="translate(38.40,141.83) scale(1,1.06)"><path d="M763 0H583V1147Q518 1085 412.5 1023T223 930V1104Q374 1175 487 1276T647 1472H763Z" transform="scale(0.009766,-0.009259)" stroke-width="30.7"/><text x="11.12" y="0">.5</text></g>
<g transform="translate(38.40,73.70) scale(1,1.06)"><path d="M763 0H583V1147Q518 1085 412.5 1023T223 930V1104Q374 1175 487 1276T647 1472H763Z" transform="scale(0.009766,-0.009259)" stroke-width="30.7"/><text x="11.12" y="0">.6</text></g>
<text x="285.1" y="423.65" textLength="161.6">Pulse duration [fs]</text>
<text transform="translate(17.1,280.2) rotate(-90) scale(1,1.03)" textLength="192.3">Average charge state</text>
</g>
</svg>
</body></html>
